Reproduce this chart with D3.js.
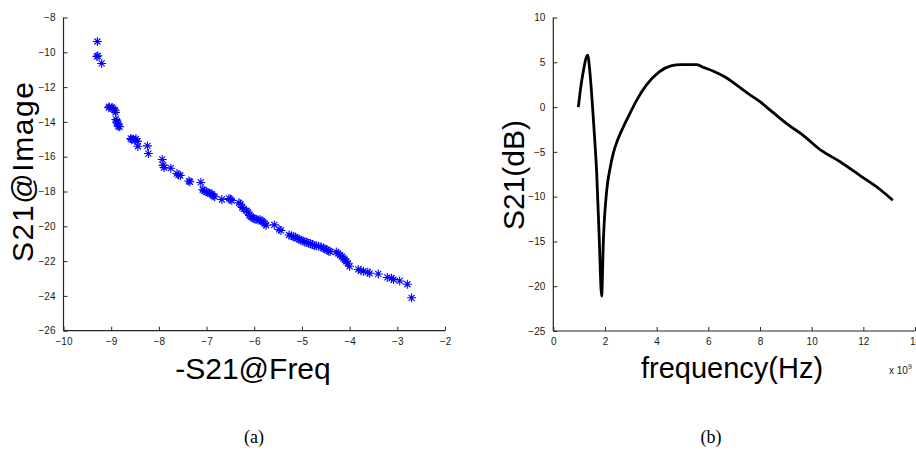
<!DOCTYPE html>
<html><head><meta charset="utf-8">
<script src="https://cdn.jsdelivr.net/npm/d3@7"></script>
<style>
html,body{margin:0;padding:0;background:#fff;}
svg{display:block;}
text{font-family:"Liberation Sans",Arial,sans-serif;}
</style></head>
<body>
<svg id="c" width="916" height="454"></svg>
<script>
// ---- Data (a): scatter ----
const scatterX = [-9.29,-9.30,-9.28,-9.20,-9.04,-9.05,-8.98,-8.96,-8.92,-8.91,-8.90,-8.88,-8.88,-8.86,-8.85,-8.82,
 -8.59,-8.57,-8.54,-8.50,-8.48,-8.45,-8.44,-8.24,-8.22,-7.93,-7.91,-7.89,-7.75,-7.62,-7.59,-7.55,-7.37,-7.35,
 -7.12,-7.08,-7.05,-7.00,-6.97,-6.93,-6.89,-6.86,-6.83,-6.68,-6.53,-6.50,-6.47,-6.32,-6.29,-6.25,-6.22,-6.16,
 -6.13,-6.10,-6.07,-6.03,-6.00,-5.96,-5.92,-5.88,-5.84,-5.81,-5.78,-5.75,-5.58,-5.48,-5.44,-5.27,-5.22,-5.18,
 -5.14,-5.10,-5.06,-5.02,-4.98,-4.94,-4.90,-4.86,-4.82,-4.78,-4.74,-4.70,-4.65,-4.60,-4.55,-4.52,-4.48,-4.44,
 -4.41,-4.28,-4.24,-4.20,-4.16,-4.13,-4.10,-4.07,-4.04,-4.00,-3.82,-3.76,-3.71,-3.62,-3.58,-3.40,-3.21,-3.12,
 -3.08,-2.95,-2.79,-2.70];
const scatterY = [-9.38,-10.24,-10.20,-10.64,-13.13,-13.18,-13.17,-13.25,-13.33,-13.45,-13.86,-13.95,-14.05,-14.12,-14.25,-14.28,
 -14.95,-15.02,-14.98,-15.05,-14.97,-15.12,-15.40,-15.38,-15.82,-16.16,-16.50,-16.62,-16.66,-16.97,-17.05,-17.08,-17.40,-17.44,
 -17.48,-17.90,-17.95,-18.02,-18.06,-18.11,-18.15,-18.25,-18.30,-18.46,-18.40,-18.45,-18.52,-18.65,-18.72,-18.92,-19.00,-19.12,
 -19.18,-19.38,-19.45,-19.52,-19.56,-19.60,-19.64,-19.62,-19.70,-19.76,-19.85,-19.94,-19.92,-20.18,-20.24,-20.50,-20.55,-20.60,
 -20.62,-20.68,-20.75,-20.80,-20.84,-20.90,-20.92,-20.98,-21.00,-21.05,-21.10,-21.12,-21.15,-21.18,-21.25,-21.30,-21.34,-21.42,
 -21.45,-21.48,-21.55,-21.65,-21.74,-21.84,-21.92,-22.02,-22.12,-22.30,-22.48,-22.55,-22.58,-22.64,-22.70,-22.74,-22.94,-22.98,
 -23.06,-23.14,-23.33,-24.11];
const aXTicks = [-10,-9,-8,-7,-6,-5,-4,-3,-2];
const aYTicks = [-8,-10,-12,-14,-16,-18,-20,-22,-24,-26];

// ---- Data (b): S21 vs frequency (x 1e9 Hz) ----
const freq = [0.97,1.03,1.15,1.33,1.42,1.52,1.60,1.68,1.78,1.87,1.94,2.07,2.20,2.32,2.50,2.78,3.00,3.23,3.60,4.10,4.55,
 4.95,5.55,5.75,6.20,6.65,7.10,7.60,8.00,8.50,9.10,9.60,10.40,11.10,11.90,12.65,13.14];
const s21 = [0.0,1.5,3.8,5.8,3.8,0.0,-3.5,-7.4,-14.8,-21.1,-14.8,-9.25,-6.8,-5.16,-3.6,-1.8,-0.5,0.78,2.45,3.94,4.6,
 4.75,4.75,4.5,4.0,3.35,2.45,1.4,0.6,-0.6,-2.0,-3.0,-4.9,-6.1,-7.7,-9.2,-10.4];
const bXTicks = [0,2,4,6,8,10,12,14];
const bYTicks = [10,5,0,-5,-10,-15,-20,-25];

const svg = d3.select("#c");
const axisColor = "#262626";

function drawAxes(g, x, y, xt, yt) {
  const xa = g.append("g").attr("transform", `translate(0,${y.range()[0]})`)
    .call(d3.axisBottom(x).tickValues(xt).tickSizeInner(-4).tickSizeOuter(0).tickPadding(8).tickFormat(d3.format("d")));
  const ya = g.append("g").attr("transform", `translate(${x.range()[0]},0)`)
    .call(d3.axisLeft(y).tickValues(yt).tickSizeInner(-4).tickSizeOuter(0).tickPadding(8).tickFormat(d3.format("d")));
  [xa, ya].forEach(a => {
    a.select(".domain").attr("stroke", axisColor).attr("stroke-width", 1.2);
    a.selectAll(".tick line").attr("stroke", axisColor);
    a.selectAll("text").attr("fill", "#1a1a1a").style("font-size", "10px").style("font-family", "'Liberation Sans',Arial,sans-serif");
  });
  xa.selectAll("text").attr("dy", "0.6em");
  xa.select(".domain").attr("d", `M${x.range()[0]},0H${x.range()[1]}`);
  ya.select(".domain").attr("d", `M0,${y.range()[0]}V${y.range()[1]}`);
  return [xa, ya];
}

// ---- Panel (a) ----
const xa = d3.scaleLinear().domain([-10,-2]).range([63.5,445]);
const ya = d3.scaleLinear().domain([-26,-8]).range([330.7,17.5]);
const gA = svg.append("g");
drawAxes(gA, xa, ya, aXTicks, aYTicks);
const pts = scatterX.map((v,i)=>[v, scatterY[i]]);
const mk = gA.append("g").attr("stroke","#0000ff").attr("stroke-width",1.1).attr("fill","none");
mk.selectAll("path").data(pts).join("path")
  .attr("d", d => {
    const cx = xa(d[0]), cy = ya(d[1]);
    return `M${cx-4.5},${cy}H${cx+4.5}M${cx},${cy-4.5}V${cy+4.5}` +
           `M${cx-3},${cy-3}L${cx+3},${cy+3}M${cx-3},${cy+3}L${cx+3},${cy-3}`;
  });
gA.append("text").attr("transform","translate(33,172) rotate(-90)")
  .attr("text-anchor","middle").style("font-size","30px").attr("fill","#000")
  .attr("textLength",180).attr("lengthAdjust","spacing").text("S21@Image");
gA.append("text").attr("x",253).attr("y",379)
  .attr("text-anchor","middle").style("font-size","30px").attr("fill","#000").text("-S21@Freq");
gA.append("text").attr("x",254).attr("y",443).attr("text-anchor","middle")
  .style("font-family","'Liberation Serif','Times New Roman',serif").style("font-size","18px").text("(a)");

// ---- Panel (b) ----
const xb = d3.scaleLinear().domain([0,14]).range([553.3,915]);
const yb = d3.scaleLinear().domain([-25,10]).range([331,17.5]);
const gB = svg.append("g");
drawAxes(gB, xb, yb, bXTicks, bYTicks);
gB.append("path").datum(freq.map((f,i)=>[f,s21[i]]))
  .attr("fill","none").attr("stroke","#000").attr("stroke-width",2.8).attr("stroke-linejoin","round")
  .attr("d", d3.line().x(d=>xb(d[0])).y(d=>yb(d[1])).curve(d3.curveMonotoneX));
gB.append("text").attr("transform","translate(524,175) rotate(-90)")
  .attr("text-anchor","middle").style("font-size","30px").attr("fill","#000").text("S21(dB)");
gB.append("text").attr("x",732).attr("y",378)
  .attr("text-anchor","middle").style("font-size","29px").attr("fill","#000").text("frequency(Hz)");
const ex = gB.append("text").attr("x",889).attr("y",374).style("font-size","10px").attr("fill","#1a1a1a");
ex.append("tspan").text("x 10");
ex.append("tspan").attr("dy","-5").style("font-size","7px").text("9");
gB.append("text").attr("x",711).attr("y",443).attr("text-anchor","middle")
  .style("font-family","'Liberation Serif','Times New Roman',serif").style("font-size","18px").text("(b)");
</script>
</body></html>
